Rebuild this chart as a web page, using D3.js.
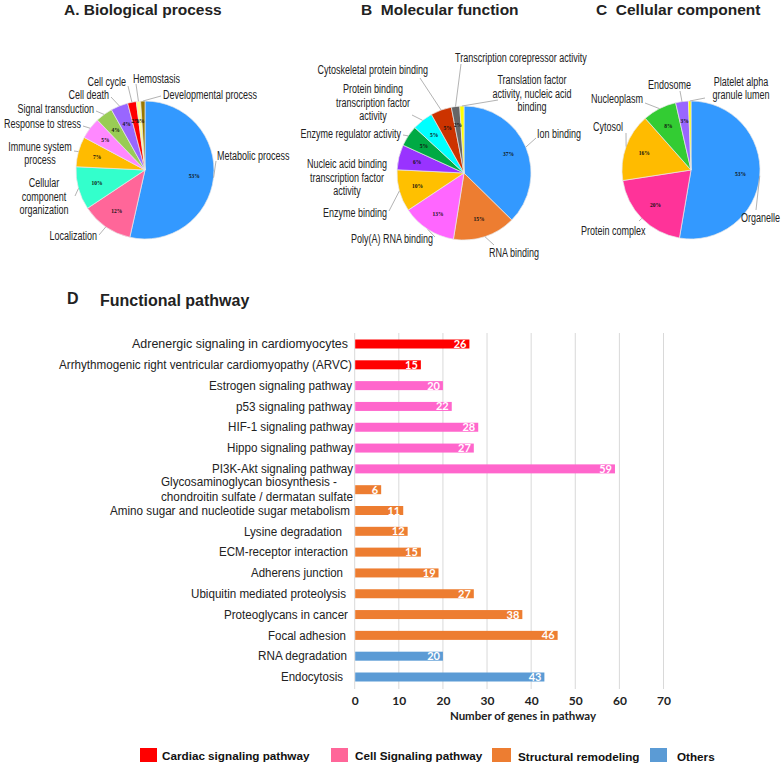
<!DOCTYPE html>
<html><head><meta charset="utf-8">
<script src="https://cdn.jsdelivr.net/npm/d3@7"></script>
<style>body{margin:0;background:#fff}svg{display:block}</style>
</head><body><svg id="c" width="783" height="764"></svg>
<script>
// ---------- DATA ----------
const bioLabels = ["Metabolic process","Localization","Cellular\ncomponent\norganization","Immune system\nprocess","Response to stress","Signal transduction","Cell death","Cell cycle","Hemostasis","Developmental process"];
const bioValues = [53,12,10,7,5,4,4,2,1,1];
const bioColors = ["#3399ff","#ff6699","#33ffcc","#ffbb00","#ff88ff","#99cc55","#9966ff","#ff0000","#ffff99","#997700"];

const molLabels = ["Ion binding","RNA binding","Poly(A) RNA binding","Enzyme binding","Nucleic acid binding\ntranscription factor\nactivity","Enzyme regulator activity","Protein binding\ntranscription factor\nactivity","Cytoskeletal protein binding","Transcription corepressor activity","Translation factor\nactivity, nucleic acid\nbinding"];
const molValues = [37,15,13,10,6,5,5,5,2,1];
const molColors = ["#3399ff","#ed7d31","#ff66ff","#ffc000","#9933ff","#00aa44","#00ffff","#cc3300","#666666","#ffff00"];

const celLabels = ["Organelle","Protein complex","Cytosol","Nucleoplasm","Endosome","Platelet alpha\ngranule lumen"];
const celValues = [53,20,16,8,3,0.6];
const celColors = ["#3399ff","#ff3399","#ffbb00","#33cc33","#9966ff","#ffff00"];

const pathways = ["Adrenergic signaling in cardiomyocytes","Arrhythmogenic right ventricular cardiomyopathy (ARVC)","Estrogen signaling pathway","p53 signaling pathway","HIF-1 signaling pathway","Hippo signaling pathway","PI3K-Akt signaling pathway","Glycosaminoglycan biosynthesis -\nchondroitin sulfate / dermatan sulfate","Amino sugar and nucleotide sugar metabolism","Lysine degradation","ECM-receptor interaction","Adherens junction","Ubiquitin mediated proteolysis","Proteoglycans in cancer","Focal adhesion","RNA degradation","Endocytosis"];
const geneCounts = [26,15,20,22,28,27,59,6,11,12,15,19,27,38,46,20,43];
const pathwayGroup = ["Cardiac","Cardiac","Cell","Cell","Cell","Cell","Cell","Struct","Struct","Struct","Struct","Struct","Struct","Struct","Struct","Others","Others"];
const groupNames = ["Cardiac signaling pathway","Cell Signaling pathway","Structural remodeling","Others"];
const groupKeys = ["Cardiac","Cell","Struct","Others"];
const barColors = ["#ff0000","#ff66cc","#ed7d31","#5b9bd5"];
const legendColors = ["#ff0000","#ff6699","#ed7d31","#5b9bd5"];
const xTicks = [0,10,20,30,40,50,60,70];

// ---------- LAYOUT (label placement only) ----------
const bioLayout = [[217,155,"start",216,161],[97,235,"end",99,235],[44,196,"middle",75,196],[40,153,"middle",74,151],[81,123,"end",83,126],[94,108,"end",96,111],[109,94,"end",111,97],[126,81,"end",128,86],[133,78,"start",136,84],[163,94,"start",161,96]];
const molLayout = [[537,133,"start",536,138],[489,252,"start",494,245],[433,238,"end",435,237],[387,212,"end",389,211],[347,177,"middle",null,null],[401,133,"end",403,135],[373,102,"middle",412,115],[428,69,"end",420,78],[455,57,"start",461,64],[532,93,"middle",498,100]];
const celLayout = [[741,217,"start",756,210],[581,230,"start",639,221],[593,126,"start",626,133],[643,98,"end",645,103],[648,84,"start",680,91],[741,88,"middle",705,98]];
// left/right pixel extent of each category label line (text fitted into it)
const catLabelSpan = [[[132,348]],[[59,352]],[[209,352]],[[236,352]],[[228,353]],[[227,353]],[[212,353]],[[161,337],[161,353]],[[110,350]],[[244,342]],[[219,348]],[[251,343]],[[191,346]],[[224,348]],[[268,346]],[[258,347]],[[281,343]]];

const svg = d3.select("#c");
const SQ = 0.72;

function condensed(g, str, x, y, anchor, size, lh) {
  const lines = str.split("\n");
  const n = lines.length;
  lines.forEach((ln, i) => {
    const t = g.append("text")
      .attr("x", x).attr("y", y - (n - 1) * lh / 2 + i * lh + size * 0.36)
      .attr("text-anchor", anchor)
      .attr("font-family", "Liberation Sans, Arial, sans-serif")
      .attr("font-size", size).attr("fill", "#222").text(ln);
    const w = t.node().getComputedTextLength();
    t.attr("textLength", w * SQ).attr("lengthAdjust", "spacingAndGlyphs");
  });
}

function drawPie(cx, cy, r, labels, values, colors, layout) {
  const g = svg.append("g");
  const pie = d3.pie().sort(null).value(d => d)(values);
  const arc = d3.arc().innerRadius(0).outerRadius(r);
  const pg = g.append("g").attr("transform", `translate(${cx},${cy})`);
  pg.selectAll("path").data(pie).join("path")
    .attr("d", arc).attr("fill", (d, i) => colors[i])
    .attr("stroke", "#e8e8e8").attr("stroke-width", 0.7);
  const lab = d3.arc().innerRadius(r * 0.72).outerRadius(r * 0.72);
  pg.selectAll("text.pct").data(pie.slice(0, -1)).join("text")
    .attr("class", "pct")
    .attr("transform", d => { const c = lab.centroid(d); return `translate(${c[0]},${c[1] + 2})`; })
    .attr("text-anchor", "middle").attr("font-family", "Liberation Serif, serif")
    .attr("font-weight", "bold").attr("font-size", 5.5).attr("fill", "#111")
    .text(d => d.data + "%");
  pie.forEach((d, i) => {
    const L = layout[i];
    const a = (d.startAngle + d.endAngle) / 2;
    if (L[3] !== null) {
      g.append("line")
        .attr("x1", cx + r * Math.sin(a)).attr("y1", cy - r * Math.cos(a))
        .attr("x2", L[3]).attr("y2", L[4])
        .attr("stroke", "#a0a0a0").attr("stroke-width", 0.8);
    }
    condensed(g, labels[i], L[0], L[1], L[2], 12.5, 13.5);
  });
}

// ---------- TITLES ----------
function title(x, y, txt, size) {
  svg.append("text").attr("x", x).attr("y", y).attr("font-family", "Liberation Sans, Arial, sans-serif")
    .attr("font-weight", "bold").attr("font-size", size).attr("fill", "#222").style("white-space", "pre").text(txt);
}
title(64, 14.5, "A. Biological process", 15.5);
title(361, 14.5, "B  Molecular function", 15.5);
title(596, 14.5, "C  Cellular component", 15.5);
title(67, 304, "D", 16);
title(100, 306, "Functional pathway", 16);

drawPie(145, 170, 69, bioLabels, bioValues, bioColors, bioLayout);
drawPie(464, 173, 67, molLabels, molValues, molColors, molLayout);
drawPie(691, 170, 69, celLabels, celValues, celColors, celLayout);

// ---------- BAR CHART ----------
const x = d3.scaleLinear().domain([0, 70]).range([354.7, 663.5]);
const y = d3.scalePoint().domain(pathways).range([344, 677]);
const barH = 9;
const gridTop = 333, gridBot = 689;
const bg = svg.append("g");
bg.selectAll("line.grid").data(xTicks).join("line").attr("class", "grid")
  .attr("x1", d => x(d)).attr("x2", d => x(d)).attr("y1", gridTop).attr("y2", gridBot)
  .attr("stroke", "#d9d9d9").attr("stroke-width", 1);

bg.selectAll("rect.bar").data(pathways).join("rect").attr("class", "bar")
  .attr("x", x(0) + 0.5).attr("y", d => y(d) - barH / 2)
  .attr("width", (d, i) => x(geneCounts[i]) - x(0) - 0.5).attr("height", barH)
  .attr("fill", (d, i) => barColors[groupKeys.indexOf(pathwayGroup[i])]);

bg.selectAll("text.val").data(pathways).join("text").attr("class", "val")
  .attr("x", (d, i) => x(geneCounts[i]) - 3).attr("y", d => y(d) + 4)
  .attr("text-anchor", "end").attr("font-family", "Lato, sans-serif").attr("font-weight", "bold")
  .attr("font-size", 11).attr("fill", "#fff").text((d, i) => geneCounts[i]);

// category labels
pathways.forEach((p, k) => {
  const lines = p.split("\n");
  const cy = y(p);
  const lh = 15;
  const n = lines.length;
  lines.forEach((ln, i) => {
    const sp = catLabelSpan[k][i];
    bg.append("text")
      .attr("x", sp[0]).attr("y", cy - (n - 1) * lh / 2 + i * lh + 4.2)
      .attr("font-family", "Liberation Sans, Arial, sans-serif")
      .attr("font-size", 12).attr("fill", "#222")
      .attr("textLength", sp[1] - sp[0]).attr("lengthAdjust", "spacingAndGlyphs").text(ln);
  });
});

// x axis
const ax = bg.append("g").attr("transform", `translate(0,${gridBot})`)
  .call(d3.axisBottom(x).tickValues(xTicks).tickSize(0).tickPadding(7));
ax.select(".domain").remove();
ax.selectAll("text").attr("font-family", "Lato, sans-serif").attr("font-weight", "bold")
  .attr("font-size", 12).attr("fill", "#222");
bg.append("text").attr("x", 523).attr("y", 720).attr("text-anchor", "middle")
  .attr("font-family", "Lato, sans-serif").attr("font-weight", "bold").attr("font-size", 11.5)
  .attr("fill", "#222").text("Number of genes in pathway");

// legend
const legendX = [140, 331, 492, 650];
const legendTextX = [162, 355, 518, 677];
const lg = svg.append("g");
groupNames.forEach((nm, i) => {
  lg.append("rect").attr("x", legendX[i]).attr("y", 748).attr("width", i === 2 ? 19 : 17).attr("height", 14)
    .attr("fill", legendColors[i]);
  lg.append("text").attr("x", legendTextX[i]).attr("y", i >= 2 ? 760.5 : 759.5)
    .attr("font-family", "Liberation Sans, Arial, sans-serif").attr("font-weight", "bold")
    .attr("font-size", 11.7).attr("fill", "#111").text(nm);
});
</script></body></html>
